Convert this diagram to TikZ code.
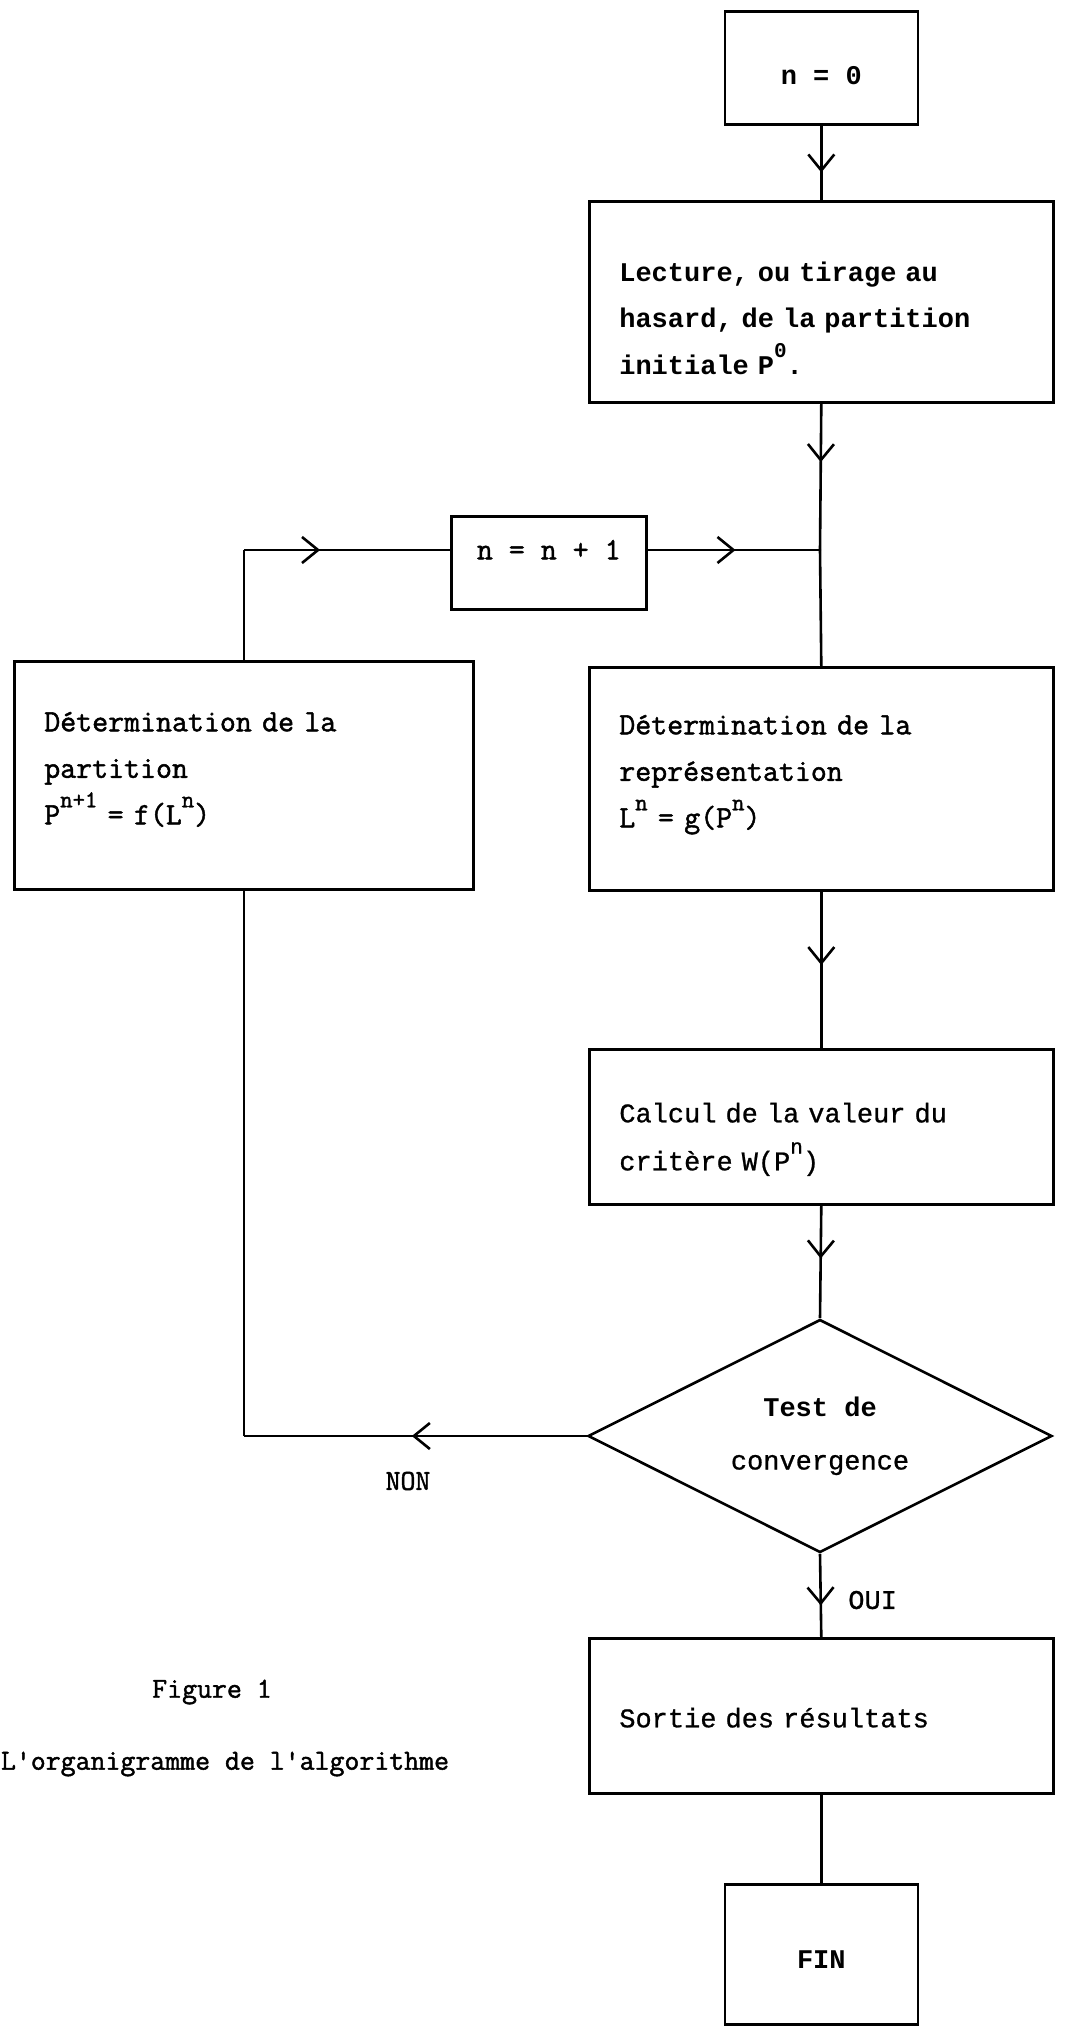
\documentclass[tikz,border=0pt]{standalone}
\usepackage{fontspec}
\usetikzlibrary{shapes.geometric,arrows.meta,decorations.markings}
\newfontfamily\courfont[FakeBold=0.8]{Liberation Mono}
\newfontfamily\courbold{Liberation Mono Bold}
\newfontfamily\condfont[FakeBold=1.6]{Latin Modern Mono}
\newcommand\supc[1]{\raisebox{0.62em}{\fontsize{21}{21}\selectfont #1}}
\newcommand\supd[1]{\raisebox{0.55em}{\fontsize{24}{24}\selectfont #1}}
\begin{document}
\begin{tikzpicture}[x=1pt,y=-1pt,
  line width=2.6pt,
  box/.style={draw, rectangle, inner ysep=0pt, inner xsep=30pt, align=left, anchor=north west, font=\courfont\fontsize{27}{46.5}\selectfont},
  cbox/.style={box, font=\condfont\fontsize{31}{46.5}\selectfont},
  midarrow/.style={postaction={decorate}, decoration={markings, mark=at position #1 with {\arrow{Straight Barb[length=16pt,width=26pt]}}}},
  lab/.style={font=\condfont\fontsize{29}{34}\selectfont, inner sep=0pt}
]
\useasboundingbox (0,0) rectangle (1066,2028);

\node[box, align=center, inner xsep=0pt, minimum width=193pt, text height=73pt, text depth=40pt, font=\courbold\fontsize{27}{46.5}\selectfont] (n0) at (723.5,10) {n = 0};

\node[box, text width=404pt, text height=80pt, text depth=121pt, font=\courbold\fontsize{27}{46.5}\selectfont] (lect) at (588,200) {Lecture, ou tirage au\\hasard, de la partition\\initiale P\supc{0}.};

\node[cbox, align=center, inner xsep=0pt, minimum width=195pt, text height=43pt, text depth=50pt] (npl) at (450,515) {n = n + 1};

\node[cbox, text width=399pt, text height=70pt, text depth=158pt] (ldet) at (13,660) {Détermination de la\\partition\\P\supd{n+1} = f(L\supd{n})};

\node[cbox, text width=404pt, text height=67pt, text depth=156pt] (rdet) at (588,666) {Détermination de la\\représentation\\L\supd{n} = g(P\supd{n})};

\node[box, text width=404pt, text height=73pt, text depth=82pt, font=\courfont\fontsize{27}{48}\selectfont] (calc) at (588,1048) {Calcul de la valeur du\\critère W(P\supc{n})};

\node[draw, diamond, aspect=2, minimum width=464pt, minimum height=233pt, inner sep=0pt, align=center, font=\courfont\fontsize{27}{53}\selectfont] (test) at (820,1436) {{\courbold Test de}\\convergence};

\node[box, text width=404pt, text height=89pt, text depth=66pt] (sortie) at (588,1637) {Sortie des résultats};

\node[box, align=center, inner xsep=0pt, minimum width=193pt, text height=84pt, text depth=56pt, font=\courbold\fontsize{27}{46.5}\selectfont] (fin) at (723.5,1883) {FIN};

\node[lab] (non) at (408,1481) {NON};
\node[font=\courfont\fontsize{27}{30}\selectfont, anchor=west, inner sep=0pt] (oui) at (847,1600) {OUI};
\node[lab] (fig) at (212,1692) {Figure 1};
\node[lab] (cap) at (225,1764) {L'organigramme de l'algorithme};

\coordinate (J) at (820,550);
\coordinate (K) at (ldet.north |- J);
\coordinate (M) at (ldet.south |- test.west);

\draw[midarrow=0.63] (n0.south) -- (lect.north);
\draw[midarrow=0.4] (lect.south) -- (J);
\draw (J) -- (rdet.north);
\draw[midarrow=0.51] (npl.east |- J) -- (J);
\draw (ldet.north) -- (K);
\draw[midarrow=0.37] (K) -- (npl.west |- K);
\draw[midarrow=0.47] (rdet.south) -- (calc.north);
\draw[midarrow=0.47] (calc.south) -- (test.north);
\draw[midarrow=0.51] (test.west) -- (M);
\draw (M) -- (ldet.south);
\draw[midarrow=0.62] (test.south) -- (sortie.north);
\draw (sortie.south) -- (fin.north);
\end{tikzpicture}
\end{document}
